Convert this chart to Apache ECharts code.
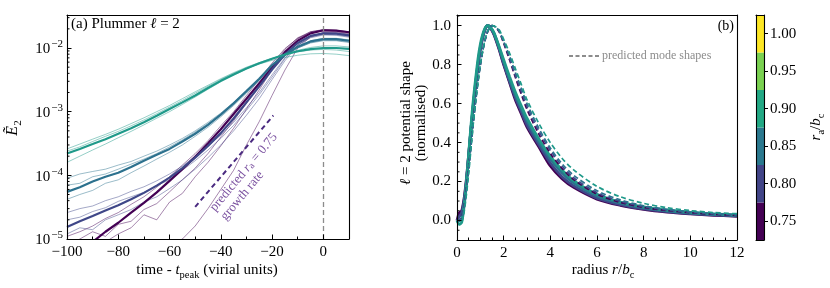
<!DOCTYPE html>
<html><head><meta charset="utf-8">
<script src="https://cdn.jsdelivr.net/npm/echarts@6/dist/echarts.min.js"></script>
<style>html,body{margin:0;padding:0;background:#fff}#c{width:830px;height:288px}</style>
</head><body><div id="c"></div>
<script>
// ---------- Panel (a) data ----------
const times = [-100,-95,-90,-85,-80,-75,-70,-65,-60,-55,-50,-45,-40,-35,-30,-25,-20,-15,-10,-5,0,5,10];
const groupLabels = ['0.75','0.80','0.85','0.90'];
const groupColors = ['#440154','#3f4788','#2c718e','#1f9a8a'];

const mean075 = [5.5e-6,7e-6,9e-6,1.3e-5,1.8e-5,2.6e-5,3.7e-5,5.4e-5,8.2e-5,1.25e-4,1.95e-4,3.2e-4,5.3e-4,9.2e-4,1.6e-3,2.8e-3,4.9e-3,8.6e-3,1.3e-2,1.7e-2,1.9e-2,1.87e-2,1.77e-2];
const mean080 = [1.55e-5,1.9e-5,2.3e-5,2.8e-5,3.4e-5,4.2e-5,5.3e-5,6.9e-5,9.2e-5,1.3e-4,1.9e-4,2.9e-4,4.6e-4,7.8e-4,1.4e-3,2.5e-3,4.6e-3,7.9e-3,1.2e-2,1.55e-2,1.7e-2,1.68e-2,1.58e-2];
const mean085 = [5.5e-5,6.5e-5,8e-5,9.5e-5,1.1e-4,1.35e-4,1.7e-4,2.1e-4,2.6e-4,3.4e-4,4.5e-4,6.2e-4,9.0e-4,1.35e-3,2.1e-3,3.3e-3,5.4e-3,7.9e-3,1.05e-2,1.27e-2,1.38e-2,1.38e-2,1.3e-2];
const mean090 = [2.2e-4,2.6e-4,3.1e-4,3.7e-4,4.5e-4,5.5e-4,6.8e-4,8.6e-4,1.1e-3,1.4e-3,1.8e-3,2.35e-3,3.05e-3,3.85e-3,4.75e-3,5.75e-3,6.8e-3,7.9e-3,8.9e-3,9.6e-3,1.0e-2,1.0e-2,9.7e-3];

// individual runs (thin lines)
const run075a = [1.1e-5,1.3e-5,1.6e-5,2.1e-5,2.6e-5,3.5e-5,4.6e-5,6.5e-5,9.5e-5,1.45e-4,2.2e-4,3.5e-4,6.0e-4,1.0e-3,1.8e-3,3.2e-3,5.8e-3,9.8e-3,1.42e-2,1.72e-2,1.85e-2,1.8e-2,1.7e-2];
const run075b = [6e-6,7e-6,8e-6,9e-6,1.2e-5,1.5e-5,2.4e-5,2.0e-5,3.8e-5,5.2e-5,9.5e-5,1.6e-4,2.9e-4,5.5e-4,1.1e-3,2.2e-3,4.6e-3,8.8e-3,1.4e-2,1.8e-2,1.95e-2,1.9e-2,1.8e-2];
const run075c = [3e-6,3.5e-6,4e-6,4.5e-6,5e-6,6e-6,7e-6,7.5e-6,8e-6,1.0e-5,1.6e-5,3e-5,6e-5,1.2e-4,3e-4,7e-4,1.8e-3,4.5e-3,1.0e-2,1.5e-2,1.75e-2,1.75e-2,1.65e-2];
const run075d = [8e-6,1e-5,1.3e-5,1.1e-5,1.7e-5,1.9e-5,2.9e-5,3.6e-5,5.5e-5,8.5e-5,1.3e-4,2.2e-4,4e-4,7.2e-4,1.35e-3,2.6e-3,5.2e-3,9.5e-3,1.45e-2,1.8e-2,1.92e-2,1.88e-2,1.78e-2];
const run080a = [2.6e-5,3.0e-5,3.3e-5,4.0e-5,4.6e-5,5.6e-5,6.6e-5,8.2e-5,1.05e-4,1.4e-4,2.0e-4,2.9e-4,4.3e-4,6.8e-4,1.15e-3,2.0e-3,3.8e-3,7.0e-3,1.1e-2,1.45e-2,1.6e-2,1.58e-2,1.48e-2];
const run080b = [1.2e-5,1.5e-5,1.4e-5,2.0e-5,2.4e-5,2.9e-5,3.8e-5,4.6e-5,6.2e-5,8.5e-5,1.25e-4,1.9e-4,3.0e-4,5.0e-4,8.8e-4,1.6e-3,3.2e-3,6.3e-3,1.1e-2,1.52e-2,1.72e-2,1.7e-2,1.6e-2];
const run080c = [2.0e-5,2.2e-5,2.7e-5,3.1e-5,3.9e-5,4.6e-5,5.4e-5,6.9e-5,8.5e-5,1.2e-4,1.7e-4,2.5e-4,3.8e-4,6.1e-4,1.05e-3,1.85e-3,3.5e-3,6.8e-3,1.12e-2,1.48e-2,1.65e-2,1.62e-2,1.52e-2];
const run085a = [9e-5,1.05e-4,1.15e-4,1.25e-4,1.45e-4,1.65e-4,2.0e-4,2.4e-4,3.0e-4,3.8e-4,5.0e-4,6.8e-4,9.5e-4,1.4e-3,2.1e-3,3.2e-3,5.2e-3,7.6e-3,1.0e-2,1.2e-2,1.3e-2,1.3e-2,1.22e-2];
const run085b = [4.2e-5,5.0e-5,5.8e-5,7.5e-5,8.5e-5,1.1e-4,1.4e-4,1.8e-4,2.3e-4,3.0e-4,4.1e-4,5.7e-4,8.3e-4,1.25e-3,1.95e-3,3.1e-3,5.0e-3,7.6e-3,1.05e-2,1.3e-2,1.42e-2,1.42e-2,1.34e-2];
const run085c = [7e-5,7.5e-5,9.5e-5,1.05e-4,1.25e-4,1.5e-4,1.8e-4,2.2e-4,2.8e-4,3.6e-4,4.8e-4,6.5e-4,9.2e-4,1.35e-3,2.05e-3,3.15e-3,5.1e-3,7.5e-3,1.0e-2,1.22e-2,1.33e-2,1.32e-2,1.25e-2];
const run090a = [2.6e-4,3.1e-4,3.7e-4,4.4e-4,5.3e-4,6.5e-4,8.0e-4,1.0e-3,1.25e-3,1.6e-3,2.05e-3,2.6e-3,3.3e-3,4.1e-3,5.0e-3,5.9e-3,6.9e-3,7.9e-3,8.7e-3,9.3e-3,9.5e-3,9.3e-3,8.8e-3];
const run090b = [1.6e-4,2.0e-4,2.5e-4,3.1e-4,3.9e-4,4.9e-4,6.2e-4,7.9e-4,1.0e-3,1.3e-3,1.7e-3,2.25e-3,2.95e-3,3.75e-3,4.7e-3,5.7e-3,6.8e-3,8.0e-3,9.2e-3,1.02e-2,1.08e-2,1.08e-2,1.04e-2];
const run090c = [2.4e-4,2.8e-4,3.4e-4,4.1e-4,4.9e-4,6.0e-4,7.4e-4,9.3e-4,1.18e-3,1.5e-3,1.95e-3,2.5e-3,3.2e-3,4.0e-3,4.8e-3,5.6e-3,6.4e-3,7.1e-3,7.7e-3,8.1e-3,8.2e-3,8.0e-3,7.6e-3];

const meanRuns = [mean075, mean080, mean085, mean090];
const thinRuns = [[run075a,run075b,run075c,run075d],[run080a,run080b,run080c],[run085a,run085b,run085c],[run090a,run090b,run090c]];

// predicted growth rate segment (r_a = 0.75)
const predTimes = [-50, -19.5];
const predValues = [3.2e-5, 8.7e-4];

// ---------- Panel (b) data ----------
const radius = [0,0.1,0.2,0.3,0.4,0.5,0.6,0.7,0.8,0.9,1.0,1.1,1.2,1.3,1.4,1.5,1.6,1.8,2.0,2.25,2.5,2.75,3.0,3.5,4.0,4.5,5,6,7,8,9,10,11,12];
const shape075 = [0,0.04,0.05,0.11,0.21,0.34,0.47,0.59,0.70,0.80,0.88,0.94,0.98,1.0,0.995,0.975,0.95,0.88,0.80,0.71,0.62,0.55,0.48,0.38,0.28,0.215,0.17,0.11,0.078,0.057,0.043,0.034,0.027,0.022];
const shape080 = [0,0.02,0.04,0.10,0.20,0.33,0.47,0.59,0.70,0.80,0.88,0.94,0.98,1.0,0.995,0.978,0.953,0.885,0.805,0.715,0.63,0.56,0.49,0.39,0.295,0.225,0.178,0.115,0.082,0.06,0.046,0.036,0.029,0.024];
const shape085 = [0,0.0,0.01,0.08,0.19,0.33,0.47,0.60,0.71,0.81,0.89,0.945,0.983,1.0,0.997,0.98,0.957,0.89,0.815,0.725,0.645,0.575,0.51,0.405,0.315,0.245,0.192,0.126,0.089,0.065,0.05,0.039,0.032,0.026];
const shape090 = [0,-0.02,-0.01,0.07,0.19,0.34,0.49,0.62,0.73,0.83,0.905,0.955,0.988,1.0,0.997,0.982,0.96,0.895,0.825,0.74,0.66,0.59,0.525,0.42,0.33,0.26,0.205,0.135,0.095,0.07,0.053,0.042,0.034,0.028];
const pred075 = [0,0.0,0.02,0.07,0.16,0.27,0.39,0.51,0.62,0.72,0.80,0.87,0.925,0.965,0.99,1.0,0.997,0.97,0.91,0.825,0.735,0.65,0.57,0.445,0.345,0.268,0.21,0.135,0.093,0.067,0.051,0.04,0.032,0.026];
const pred080 = [0,0.0,0.02,0.07,0.16,0.27,0.39,0.51,0.62,0.72,0.80,0.87,0.925,0.965,0.99,1.0,0.997,0.972,0.915,0.835,0.745,0.665,0.585,0.46,0.36,0.28,0.22,0.143,0.099,0.071,0.054,0.042,0.034,0.028];
const pred085 = [0,0.0,0.01,0.06,0.15,0.26,0.38,0.50,0.61,0.71,0.80,0.87,0.927,0.967,0.99,1.0,0.998,0.975,0.92,0.845,0.76,0.68,0.6,0.475,0.372,0.292,0.232,0.153,0.106,0.076,0.058,0.045,0.036,0.03];
const pred090 = [0,-0.02,-0.01,0.04,0.13,0.24,0.37,0.50,0.61,0.71,0.80,0.87,0.93,0.97,0.99,1.0,0.998,0.98,0.93,0.86,0.78,0.70,0.62,0.50,0.40,0.32,0.26,0.175,0.122,0.088,0.066,0.051,0.041,0.035];
const shapes = [shape075, shape080, shape085, shape090];
const preds = [pred075, pred080, pred085, pred090];

// ---------- Colorbar ----------
const cbEdges = [0.725,0.775,0.825,0.875,0.925,0.975,1.025];
const cbColors = ['#440154','#414487','#2a788e','#22a884','#7ad151','#fde725'];
const cbTicks = [0.75,0.80,0.85,0.90,0.95,1.00];

// ---------- helpers ----------
const SERIF = "'Liberation Serif','DejaVu Serif',serif";
const FS = 15;
const pair = (xs, ys) => xs.map((x, i) => [x, ys[i]]);
const AX = {color:'#000', width:1.1};
const A_XMIN = -100, A_YMIN = 1e-5, A_YMAX = 0.033;
const B_XMIN = 0, B_YMIN = -0.1, B_YMAX = 1.055;

const logMinor = [];
for (let e = -5; e <= -2; e++) for (let m = 2; m <= 9; m++) { const v = m * Math.pow(10, e); if (v < A_YMAX) logMinor.push(v); }
const bMinor = [];
for (let k = -1; k <= 21; k++) { const v = k * 0.05; if (k % 4 !== 0 && v > B_YMIN + 1e-9 && v < B_YMAX) bMinor.push(+v.toFixed(2)); }
const bMajor = [0,0.2,0.4,0.6,0.8,1.0];

function tickSeries(xi, yi, x0, vals, len) {
  return {
    type:'custom', xAxisIndex:xi, yAxisIndex:yi, silent:true, z:20,
    data: vals.map(v => [x0, v]), encode:{x:0, y:1},
    renderItem: (p, api) => {
      const c = api.coord([api.value(0), api.value(1)]);
      return {type:'line', shape:{x1:c[0], y1:c[1], x2:c[0]+len, y2:c[1]}, style:{stroke:'#000', lineWidth:1}};
    }
  };
}

const frameAxis = (gi, pos) => ({gridIndex:gi, position:pos, type:'value', z:10,
  axisLine:{show:true, onZero:false, lineStyle:AX}, axisTick:{show:false}, axisLabel:{show:false}, splitLine:{show:false}});

const series = [];
thinRuns.forEach((runs, g) => runs.forEach(r => series.push({
  type:'line', xAxisIndex:0, yAxisIndex:0, data:pair(times, r), symbol:'none', silent:true,
  lineStyle:{color:groupColors[g], width:0.8, opacity:0.6}, z:2
})));
meanRuns.forEach((r, g) => series.push({
  type:'line', xAxisIndex:0, yAxisIndex:0, data:pair(times, r), symbol:'none', silent:true,
  lineStyle:{color:groupColors[g], width:2.2}, z:3
}));
series.push({
  type:'line', xAxisIndex:0, yAxisIndex:0, data:pair(predTimes, predValues), symbol:'none', silent:true,
  lineStyle:{color:'#4a2a80', width:2, type:[5,3.5]}, z:4,
  markLine:{silent:true, symbol:'none', label:{show:false}, lineStyle:{color:'#8c8c8c', width:1.3, type:[5,3]},
    data:[{xAxis:0}]}
});
series.push(tickSeries(0, 0, A_XMIN, logMinor, 2.5));

shapes.forEach((s, g) => series.push({
  type:'line', xAxisIndex:2, yAxisIndex:2, data:pair(radius, s), symbol:'none', smooth:0.3, silent:true,
  lineStyle:{color:groupColors[g], width:2.8}, z:3
}));
preds.forEach((s, g) => series.push({
  type:'line', xAxisIndex:2, yAxisIndex:2, data:pair(radius, s), symbol:'none', smooth:0.3, silent:true,
  lineStyle:{color:groupColors[g], width:1.7, type:[5,3]}, z:4
}));
series.push({name:'predicted mode shapes', type:'line', xAxisIndex:2, yAxisIndex:2, data:[], symbol:'none',
  itemStyle:{color:'#8c8c8c', opacity:0}, lineStyle:{color:'#8c8c8c', width:1.5, type:[4,2.5]}});
series.push(tickSeries(2, 2, B_XMIN, bMinor, 2.5));

series.push({
  type:'custom', xAxisIndex:4, yAxisIndex:4, silent:true, z:2,
  data: cbColors.map((c, i) => [0, cbEdges[i], cbEdges[i+1]]),
  encode:{x:0, y:[1,2]},
  renderItem: (p, api) => {
    const lo = api.coord([0, api.value(1)]), hi = api.coord([1, api.value(2)]);
    return {type:'rect', shape:{x:lo[0], y:hi[1], width:hi[0]-lo[0], height:lo[1]-hi[1]}, style:{fill:cbColors[p.dataIndex]}};
  }
});

const labelFont = {fontFamily:SERIF, fontSize:FS, color:'#000'};
const subRich = {
  i:{fontFamily:SERIF, fontStyle:'italic', fontSize:FS, verticalAlign:'bottom'},
  s:{fontFamily:SERIF, fontSize:10.5, verticalAlign:'bottom', padding:[0,0,-3,0]}
};

const option = {
  animation:false,
  backgroundColor:'#fff',
  grid:[
    {left:67, top:15, width:282, height:224},
    {left:457, top:15, width:280, height:225},
    {left:756, top:15, width:8, height:225}
  ],
  legend:{data:[{name:'predicted mode shapes', itemStyle:{opacity:0}}], left:568, top:50, itemWidth:30, itemHeight:10, selectedMode:false,
    itemGap:0, textStyle:{fontFamily:SERIF, fontSize:12, color:'#8c8c8c', padding:[0,0,0,-2]}, padding:0},
  xAxis:[
    {gridIndex:0, type:'value', min:-100, max:10, interval:20, z:10,
      axisLine:{onZero:false, lineStyle:AX}, axisTick:{inside:true, length:4.5, lineStyle:{color:'#000'}},
      minorTick:{show:true, splitNumber:2, length:2.5, lineStyle:{color:'#000'}},
      axisLabel:Object.assign({margin:6, showMaxLabel:false, formatter:v => String(v).replace('-', '\u2212')}, labelFont),
      splitLine:{show:false}},
    frameAxis(0, 'top'),
    {gridIndex:1, type:'value', min:0, max:12, interval:2, z:10,
      axisLine:{onZero:false, lineStyle:AX}, axisTick:{inside:true, length:4.5, lineStyle:{color:'#000'}},
      minorTick:{show:true, splitNumber:4, length:2.5, lineStyle:{color:'#000'}},
      axisLabel:Object.assign({margin:6}, labelFont), splitLine:{show:false}},
    frameAxis(1, 'top'),
    {gridIndex:2, type:'value', min:0, max:1, z:10, axisLine:{onZero:false, lineStyle:AX}, axisTick:{show:false}, axisLabel:{show:false}, splitLine:{show:false}},
    frameAxis(2, 'top')
  ],
  yAxis:[
    {gridIndex:0, type:'log', min:A_YMIN, max:A_YMAX, z:10,
      axisLine:{onZero:false, lineStyle:AX}, axisTick:{inside:true, length:4.5, lineStyle:{color:'#000'}},
      axisLabel:{margin:4, formatter:v => {
          const l = Math.log10(v), e = Math.round(l);
          if (Math.abs(l - e) > 1e-6) return '';
          return '{b|10}{s|\u2212' + (-e) + '}';
        },
        rich:{b:{fontFamily:SERIF, fontSize:FS, color:'#000', verticalAlign:'bottom'},
              s:{fontFamily:SERIF, fontSize:11, color:'#000', verticalAlign:'bottom', padding:[0,0,7,1]}}},
      splitLine:{show:false}},
    frameAxis(0, 'right'),
    {gridIndex:1, type:'value', min:B_YMIN, max:B_YMAX, z:10,
      axisLine:{onZero:false, lineStyle:AX},
      axisTick:{inside:true, length:4.5, lineStyle:{color:'#000'}, customValues:bMajor},
      axisLabel:Object.assign({margin:6, customValues:bMajor, formatter:v => v.toFixed(1)}, labelFont),
      splitLine:{show:false}},
    frameAxis(1, 'right'),
    {gridIndex:2, type:'value', position:'right', min:0.725, max:1.025, z:10,
      axisLine:{onZero:false, lineStyle:AX},
      axisTick:{inside:false, length:4, lineStyle:{color:'#000'}, customValues:cbTicks},
      axisLabel:Object.assign({margin:6, customValues:cbTicks, formatter:v => v.toFixed(2)}, labelFont),
      splitLine:{show:false}},
    frameAxis(2, 'left')
  ],
  graphic:[
    {type:'text', left:71, top:17, style:{text:'(a) Plummer {i|\u2113} = 2', font:FS + 'px ' + SERIF, fill:'#000',
      rich:{i:{fontFamily:SERIF, fontStyle:'italic', fontSize:FS}}}},
    {type:'text', x:734, y:26, style:{text:'(b)', font:'14px ' + SERIF, fill:'#000', align:'right', verticalAlign:'middle'}},
    {type:'text', x:13, y:128, rotation:Math.PI/2, style:{text:'{e|\u1EBC}{s|2}', align:'center', verticalAlign:'middle',
      rich:{e:{fontFamily:SERIF, fontStyle:'italic', fontSize:16, verticalAlign:'bottom'}, s:{fontFamily:SERIF, fontSize:11, verticalAlign:'bottom', padding:[0,0,-3,0]}}}},
    {type:'text', x:207, y:270, style:{text:'time - {i|t}{s|peak} (virial units)', align:'center', verticalAlign:'middle',
      font:FS + 'px ' + SERIF, fill:'#000', rich:subRich}},
    {type:'text', x:414, y:123, rotation:Math.PI/2, style:{text:'{i|\u2113} = 2 potential shape\n(normalised)', align:'center', verticalAlign:'middle',
      font:FS + 'px ' + SERIF, fill:'#000', lineHeight:15, rich:{i:{fontFamily:SERIF, fontStyle:'italic', fontSize:FS}}}},
    {type:'text', x:603, y:270, style:{text:'radius {i|r}/{i|b}{s|c}', align:'center', verticalAlign:'middle',
      font:FS + 'px ' + SERIF, fill:'#000', rich:subRich}},
    {type:'text', x:816, y:127, rotation:Math.PI/2, style:{text:'{i|r}{s|a}/{i|b}{s|c}', align:'center', verticalAlign:'middle',
      font:FS + 'px ' + SERIF, fill:'#000', rich:subRich}},
    {type:'text', x:207, y:205, rotation:50*Math.PI/180, style:{text:'predicted {i|r}{s|a} = 0.75\ngrowth rate', align:'left', verticalAlign:'top',
      font:'13px ' + SERIF, fill:'#7b52a0', lineHeight:14,
      rich:{i:{fontFamily:SERIF, fontStyle:'italic', fontSize:13, fill:'#7b52a0'}, s:{fontFamily:SERIF, fontSize:9.5, fill:'#7b52a0', padding:[4,0,0,0]}}}}
  ],
  series:series
};

const chart = echarts.init(document.getElementById('c'), null, {renderer:'canvas'});
chart.setOption(option);
</script>
</body></html>
